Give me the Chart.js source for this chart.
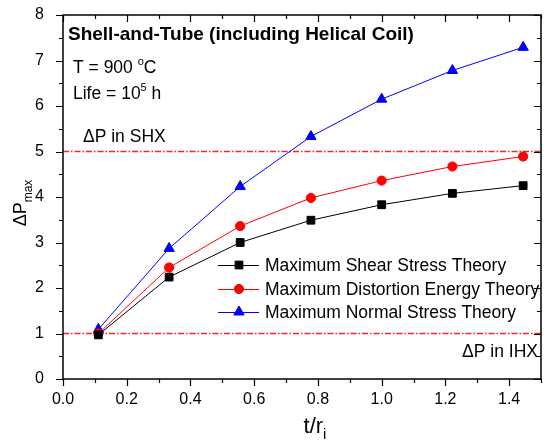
<!DOCTYPE html>
<html>
<head>
<meta charset="utf-8">
<script src="https://cdn.jsdelivr.net/npm/chart.js@4.4.0/dist/chart.umd.min.js"></script>
<style>
    html, body { margin: 0; padding: 0; background: #fff; }
</style>
</head>
<body>
<canvas id="ChartStress" width="548" height="443"></canvas>
<script>
// t/ri values and Delta P max for each failure theory
var ratio = [0.111, 0.333, 0.556, 0.778, 1.0, 1.222, 1.444];
var shear = [0.97, 2.24, 3.00, 3.49, 3.83, 4.08, 4.25];
var distortion = [1.00, 2.45, 3.36, 3.98, 4.36, 4.67, 4.89];
var normal = [1.09, 2.87, 4.23, 5.33, 6.15, 6.78, 7.29];
var seriesNames = ['Maximum Shear Stress Theory', 'Maximum Distortion Energy Theory', 'Maximum Normal Stress Theory'];

// design limits (dash-dot lines)
var limitX = [0, 1.5];
var shxLimit = [5, 5];
var ihxLimit = [1, 1];

var xTicks = [0.0, 0.2, 0.4, 0.6, 0.8, 1.0, 1.2, 1.4];
var yTicks = [0, 1, 2, 3, 4, 5, 6, 7, 8];

var FONT = "'Liberation Sans', Arial, sans-serif";

function points(xs, ys) {
    return xs.map(function (x, i) { return { x: x, y: ys[i] }; });
}

// draws text made of pieces, some raised or lowered
function richText(ctx, parts, x, y, align) {
    var w = 0;
    parts.forEach(function (p) {
        ctx.font = (p.bold ? 'bold ' : '') + p.size + 'px ' + FONT;
        p.w = ctx.measureText(p.t).width;
        w += p.w;
    });
    if (align === 'right') x -= w;
    if (align === 'center') x -= w / 2;
    ctx.textAlign = 'left';
    ctx.textBaseline = 'alphabetic';
    parts.forEach(function (p) {
        ctx.font = (p.bold ? 'bold ' : '') + p.size + 'px ' + FONT;
        ctx.fillText(p.t, x, y + (p.dy || 0));
        x += p.w;
    });
}

var framePlugin = {
    id: 'framePlugin',
    afterDraw: function (chart) {
        var ctx = chart.ctx;
        var a = chart.chartArea;
        var xs = chart.scales.x;
        var ys = chart.scales.y;

        ctx.save();
        ctx.setLineDash([]);
        ctx.strokeStyle = '#000';
        ctx.lineWidth = 1.5;
        ctx.strokeRect(a.left, a.top, a.right - a.left, a.bottom - a.top);

        ctx.lineWidth = 1.2;
        ctx.beginPath();
        var i, px, py, len;
        for (i = 0; i <= 15; i++) {
            px = Math.round(xs.getPixelForValue(i / 10)) + 0.5;
            len = (i % 2 === 0) ? 7 : 4;
            ctx.moveTo(px, a.bottom); ctx.lineTo(px, a.bottom + len);
            ctx.moveTo(px, a.top); ctx.lineTo(px, a.top + len);
        }
        for (i = 0; i <= 16; i++) {
            py = Math.round(ys.getPixelForValue(i / 2)) + 0.5;
            len = (i % 2 === 0) ? 7 : 4;
            ctx.moveTo(a.left, py); ctx.lineTo(a.left - len, py);
            ctx.moveTo(a.right, py); ctx.lineTo(a.right - len, py);
        }
        ctx.stroke();

        ctx.fillStyle = '#000';
        richText(ctx, [{ t: 'Shell-and-Tube (including Helical Coil)', size: 19, bold: true }], 68, 40);
        richText(ctx, [{ t: 'T = 900 ', size: 17.5 }, { t: 'o', size: 11, dy: -8 }, { t: 'C', size: 17.5 }], 73, 73);
        richText(ctx, [{ t: 'Life = 10', size: 17.5 }, { t: '5', size: 11, dy: -8 }, { t: ' h', size: 17.5 }], 73, 99);
        richText(ctx, [{ t: '\u0394P in SHX', size: 17.5 }], 83, 142);
        richText(ctx, [{ t: '\u0394P in IHX', size: 17.5 }], 538, 357, 'right');

        // axis titles
        richText(ctx, [{ t: 't/r', size: 22 }, { t: 'i', size: 15, dy: 6 }], 315, 433, 'center');
        ctx.save();
        ctx.translate(26, 203);
        ctx.rotate(-Math.PI / 2);
        richText(ctx, [{ t: '\u0394P', size: 18 }, { t: 'max', size: 12, dy: 6 }], 0, 0, 'center');
        ctx.restore();

        // legend
        var rows = [265, 289, 312];
        chart.data.datasets.slice(0, 3).forEach(function (ds, k) {
            var y = rows[k];
            ctx.strokeStyle = ds.borderColor;
            ctx.fillStyle = ds.backgroundColor;
            ctx.lineWidth = 1;
            ctx.beginPath();
            ctx.moveTo(218, y + 0.5); ctx.lineTo(259, y + 0.5);
            ctx.stroke();
            Chart.helpers.drawPoint(ctx, {
                pointStyle: ds.pointStyle, radius: ds.pointRadius, borderWidth: 1
            }, 239, y);
            ctx.fillStyle = '#000';
            ctx.font = '17.5px ' + FONT;
            ctx.textBaseline = 'middle';
            ctx.textAlign = 'left';
            ctx.fillText(seriesNames[k], 265, y + 1);
        });
        ctx.restore();
    }
};

var ctx = document.getElementById('ChartStress').getContext('2d');

var graph = new Chart(ctx, {
    type: 'scatter',
    data: {
        datasets: [
            {
                label: seriesNames[0],
                data: points(ratio, shear),
                showLine: true,
                borderColor: '#000000',
                backgroundColor: '#000000',
                borderWidth: 1,
                pointStyle: 'rect',
                pointRadius: 5.5
            },
            {
                label: seriesNames[1],
                data: points(ratio, distortion),
                showLine: true,
                borderColor: '#ff0000',
                backgroundColor: '#ff0000',
                borderWidth: 1,
                pointStyle: 'circle',
                pointRadius: 4.6
            },
            {
                label: seriesNames[2],
                data: points(ratio, normal),
                showLine: true,
                borderColor: '#0000ff',
                backgroundColor: '#0000ff',
                borderWidth: 1,
                pointStyle: 'triangle',
                pointRadius: 6
            },
            {
                label: 'SHX',
                data: points(limitX, shxLimit),
                showLine: true,
                borderColor: '#ff2020',
                backgroundColor: '#ff2020',
                borderWidth: 1.6,
                borderDash: [6, 2, 1.5, 2],
                pointRadius: 0,
                order: 5
            },
            {
                label: 'IHX',
                data: points(limitX, ihxLimit),
                showLine: true,
                borderColor: '#ff2020',
                backgroundColor: '#ff2020',
                borderWidth: 1.6,
                borderDash: [6, 2, 1.5, 2],
                pointRadius: 0,
                order: 5
            }
        ]
    },
    options: {
        responsive: false,
        animation: false,
        devicePixelRatio: 1,
        layout: { padding: { top: 15, right: 0, left: 0, bottom: 0 } },
        plugins: {
            legend: { display: false },
            tooltip: { enabled: false }
        },
        scales: {
            x: {
                type: 'linear',
                min: 0,
                max: 1.5,
                grid: { display: false },
                border: { display: false },
                afterBuildTicks: function (s) { s.ticks = xTicks.map(function (v) { return { value: v }; }); },
                afterFit: function (s) {
                    s.height = 64;
                    s.paddingLeft = 0;
                    s.paddingRight = 0;
                },
                ticks: {
                    padding: 3,
                    maxRotation: 0,
                    color: '#000',
                    font: { family: FONT, size: 16 },
                    callback: function (v) { return Number(v).toFixed(1); }
                }
            },
            y: {
                min: 0,
                max: 8,
                grid: { display: false },
                border: { display: false },
                afterBuildTicks: function (s) { s.ticks = yTicks.map(function (v) { return { value: v }; }); },
                afterFit: function (s) {
                    s.width = 63;
                    s.paddingTop = 0;
                    s.paddingBottom = 0;
                },
                ticks: {
                    padding: 11,
                    color: '#000',
                    font: { family: FONT, size: 16 }
                }
            }
        }
    },
    plugins: [framePlugin]
});
</script>
</body>
</html>
